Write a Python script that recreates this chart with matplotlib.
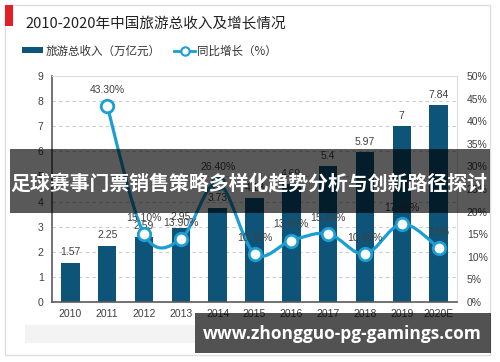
import matplotlib
matplotlib.use("Agg")
import matplotlib.pyplot as plt
import numpy as np
from matplotlib.patches import Rectangle, Patch, PathPatch
from matplotlib.lines import Line2D
from matplotlib.path import Path

CJK = ['Noto Sans CJK SC', 'DejaVu Sans']
NUM = ['Liberation Sans', 'DejaVu Sans']

years = ['2010', '2011', '2012', '2013', '2014', '2015', '2016', '2017', '2018', '2019', '2020E']
revenue = [1.57, 2.25, 2.59, 2.95, 3.73, 4.13, 4.69, 5.4, 5.97, 7, 7.84]
revenue_labels = ['1.57', '2.25', '2.59', '2.95', '3.73', '4.13', '4.69', '5.4', '5.97', '7', '7.84']
growth_years = years[1:]
growth = [43.3, 15.1, 13.9, 26.4, 10.7, 13.6, 15.1, 10.6, 17.3, 12.0]
growth_labels = ['43.30%', '15.10%', '13.90%', '26.40%', '10.70%', '13.60%', '15.10%', '10.60%', '17.30%', '12%']

title = '2010-2020年中国旅游总收入及增长情况'
legend_names = ['旅游总收入（万亿元）', '同比增长（%）']
banner = '足球赛事门票销售策略多样化趋势分析与创新路径探讨'
watermark = 'www.zhongguo-pg-gamings.com'

BAR = '#0e5378'
LINE = '#1a9ed3'
TXT = '#404040'


def smooth_path(xs, ys):
    # cubic bezier through the points (catmull-rom style tangents)
    pts = np.column_stack([xs, ys]).astype(float)
    verts = [pts[0]]
    codes = [Path.MOVETO]
    n = len(pts)
    for i in range(n - 1):
        p0 = pts[max(i - 1, 0)]
        p1 = pts[i]
        p2 = pts[i + 1]
        p3 = pts[min(i + 2, n - 1)]
        c1 = p1 + (p2 - p0) / 6.0
        c2 = p2 - (p3 - p1) / 6.0
        verts += [c1, c2, p2]
        codes += [Path.CURVE4] * 3
    return Path(verts, codes)


def main():
    fig = plt.figure(figsize=(5, 3.62), dpi=100)
    fig.patch.set_facecolor('white')

    # outer frame, title marker and faint source band
    fig.add_artist(Rectangle((5 / 500, 7 / 362), 485 / 500, 350 / 362, transform=fig.transFigure,
                             fill=False, edgecolor='#dddddd', lw=1))
    fig.add_artist(Rectangle((5 / 500, 336 / 362), 8 / 500, 21 / 362, transform=fig.transFigure,
                             facecolor='#e31e24', edgecolor='none'))
    fig.add_artist(Rectangle((25 / 500, 19 / 362), 170 / 500, 18 / 362, transform=fig.transFigure,
                             facecolor='#f3f3f3', edgecolor='none'))
    fig.text(25 / 500, 1 - 23 / 362, title, family=CJK, fontsize=10.5, color='#222222', va='center')

    ax = fig.add_axes([52 / 500, 60 / 362, 405 / 500, 226 / 362])
    x = np.arange(len(years))
    ax.bar(x, revenue, width=0.5, color=BAR, zorder=2)
    for xi, v, lab in zip(x, revenue, revenue_labels):
        ax.annotate(lab, (xi, v), xytext=(0, 4), textcoords='offset points', ha='center', va='bottom',
                    family=NUM, fontsize=7.5, color=TXT)
    ax.set_xlim(-0.5, 10.5)
    ax.set_ylim(0, 9)
    ax.set_yticks(range(0, 10))
    ax.set_xticks(x)
    ax.set_xticklabels(years)
    ax.tick_params(length=0, labelsize=7.5, labelcolor=TXT)
    ax.tick_params(axis='y', pad=6)
    ax.tick_params(axis='x', pad=5)
    for lab in ax.get_xticklabels() + ax.get_yticklabels():
        lab.set_family(NUM)
    for yv in range(1, 9):
        ax.axhline(yv, color='#cccccc', lw=0.8, ls=(0, (3, 3)), zorder=1)
    for s in ['left', 'bottom']:
        ax.spines[s].set_color('#5a5a5a')
        ax.spines[s].set_linewidth(1.2)
    for s in ['top', 'right']:
        ax.spines[s].set_color('#dddddd')

    ax2 = ax.twinx()
    ax2.set_ylim(0, 50)
    ax2.set_yticks(range(0, 51, 5))
    ax2.set_yticklabels(['%d%%' % t for t in range(0, 51, 5)])
    ax2.tick_params(length=0, labelsize=7.5, labelcolor=TXT, pad=7)
    for lab in ax2.get_yticklabels():
        lab.set_family(NUM)
    for s in ax2.spines.values():
        s.set_visible(False)
    gx = x[1:]
    ax2.add_patch(PathPatch(smooth_path(gx, growth), fill=False, edgecolor=LINE, lw=2.3, zorder=3))
    ax2.plot(gx, growth, ls='none', marker='o', ms=9, mfc='white', mec=LINE, mew=2, zorder=4)
    for xi, v, lab in zip(gx, growth, growth_labels):
        ax2.annotate(lab, (xi, v), xytext=(0, 8), textcoords='offset points', ha='center', va='bottom',
                     family=NUM, fontsize=7.5, color=TXT)

    handles = [Patch(facecolor=BAR, edgecolor='none'),
               Line2D([], [], color=LINE, lw=2, marker='o', ms=6, mfc='white', mec=LINE, mew=1.5)]
    leg = fig.legend(handles, legend_names, loc='center left', bbox_to_anchor=(12 / 500, 1 - 51 / 362),
                     ncol=2, frameon=False, prop={'family': CJK, 'size': 8.3},
                     handlelength=1.8, handleheight=0.4, handletextpad=0.2, columnspacing=1.2)
    for t in leg.get_texts():
        t.set_color('#333333')

    # dark banner across the middle
    fig.add_artist(Rectangle((10 / 500, 149 / 362), 480 / 500, 64 / 362, transform=fig.transFigure,
                             facecolor='black', alpha=0.65, edgecolor='none', zorder=10))
    fig.text(249 / 500, 1 - 184 / 362, banner, family=CJK, fontsize=14.3, fontweight='bold', color='white',
             ha='center', va='center', zorder=11)

    # watermark box
    fig.add_artist(Rectangle((195 / 500, 9 / 362), 296 / 500, 40 / 362, transform=fig.transFigure,
                             facecolor='black', alpha=0.68, edgecolor='none', zorder=10))
    fig.text(342 / 500, 1 - 334 / 362, watermark, family=['Open Sans', 'DejaVu Sans'], fontsize=12.5,
             fontweight='bold', color='white', ha='center', va='center', zorder=11)

    fig.savefig('out.png', dpi=100)


if __name__ == "__main__":
    main()
